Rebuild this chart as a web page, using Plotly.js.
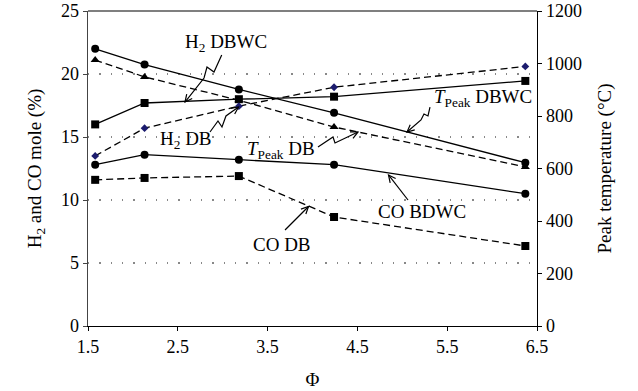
<!DOCTYPE html>
<html>
<head>
<meta charset="utf-8">
<script src="https://cdn.plot.ly/plotly-3.0.1.min.js"></script>
<style>html,body{margin:0;padding:0;background:#fff;}#chart{width:638px;height:391px;}</style>
</head>
<body>
<div id="chart"></div>
<script>
// ---- data ----
const phi = [1.58, 2.13, 3.18, 4.24, 6.37];
const h2DBWC = [16.0, 17.7, 18.0, 18.2, 19.45];
const h2DB = [13.5, 15.7, 17.45, 18.95, 20.6];
const coBDWC = [12.8, 13.6, 13.2, 12.8, 10.5];
const coDB = [11.6, 11.75, 11.9, 8.65, 6.35];
const tPeakDBWC = [1056, 996, 901, 812, 622];
const tPeakDB = [1013, 949, 860, 758, 606];
const xTicks = [1.5, 2.5, 3.5, 4.5, 5.5, 6.5];

const FONT = 'Liberation Serif, Times New Roman, serif';
const L = 88, R = 101, T = 11, B = 65, W = 638, H = 391;
const PW = W - L - R, PH = H - T - B;
const px = x => (x - L) / PW;
const py = y => (H - B - y) / PH;

function solid(x, y, sym, size, color, axis) {
  return {x: x, y: y, yaxis: axis || 'y', type: 'scatter', mode: 'lines+markers',
    line: {color: 'black', width: 1.3},
    marker: {symbol: sym, size: size, color: color || 'black'}, showlegend: false, hoverinfo: 'skip'};
}
function dashed(x, y, sym, size, color, axis) {
  const t = solid(x, y, sym, size, color, axis);
  t.line.dash = '7px,4px';
  return t;
}

const traces = [
  solid(phi, h2DBWC, 'square', 8),
  dashed(phi, h2DB, 'diamond', 6, '#1c1c6e'),
  solid(phi, coBDWC, 'circle', 8),
  dashed(phi, coDB, 'square', 8),
  solid(phi, tPeakDBWC, 'circle', 8, 'black', 'y2'),
  dashed(phi, tPeakDB, 'triangle-up', 8, 'black', 'y2')
];

// label texts (pixel positions of label centres)
const labels = [
  {t: 'H<sub>2</sub> DBWC', x: 226, y: 43},
  {t: 'H<sub>2</sub> DB', x: 186, y: 140},
  {t: '<i>T</i><sub>Peak</sub> DB', x: 281, y: 150},
  {t: '<i>T</i><sub>Peak</sub> DBWC', x: 483, y: 98},
  {t: 'CO BDWC', x: 422, y: 211},
  {t: 'CO DB', x: 282, y: 244}
];
// arrows: tail zig-zag points, last point = tip
const arrows = [
  [[221.7,55],[214,72],[207,67],[204,78],[185,102]],
  [[210,132],[218,121],[222,127],[226,116],[238.5,107]],
  [[318,147],[333,137],[335,143],[358,132]],
  [[430,107],[428,116],[424,114],[421,120],[407,132]],
  [[408,200],[388.5,175]],
  [[285,230],[308.5,206.5]]
];

const annotations = labels.map(l => ({
  text: l.t, xref: 'paper', yref: 'paper', x: px(l.x), y: py(l.y),
  xanchor: 'center', yanchor: 'middle', showarrow: false,
  font: {family: FONT, size: 19, color: 'black'}
}));
const P = p => px(p[0]).toFixed(4) + ',' + py(p[1]).toFixed(4);
const shapes = [];
arrows.forEach(pts => {
  const n = pts.length;
  let d = '';
  for (let i = 0; i < n; i++) d += (i ? ' L' : 'M') + P(pts[i]);
  shapes.push({type: 'path', xref: 'paper', yref: 'paper', path: d, line: {color: 'black', width: 1.2}});
  // open arrowhead
  const a = pts[n - 2], b = pts[n - 1];
  const ang = Math.atan2(a[1] - b[1], a[0] - b[0]);
  const len = 8, sp = 0.45;
  const h1 = [b[0] + len * Math.cos(ang + sp), b[1] + len * Math.sin(ang + sp)];
  const h2 = [b[0] + len * Math.cos(ang - sp), b[1] + len * Math.sin(ang - sp)];
  shapes.push({type: 'path', xref: 'paper', yref: 'paper',
    path: 'M' + P(h1) + ' L' + P(b) + ' L' + P(h2), line: {color: 'black', width: 1.2}});
});
// top frame line
shapes.push({type: 'line', xref: 'paper', yref: 'paper', x0: 0, x1: 1, y0: 1, y1: 1, line: {color: '#555', width: 1.5}});

const layout = {
  width: W, height: H,
  margin: {l: L, r: R, t: T, b: B},
  paper_bgcolor: 'white', plot_bgcolor: 'white',
  font: {family: FONT, size: 18, color: 'black'},
  showlegend: false,
  xaxis: {range: [1.5, 6.5], tickvals: xTicks, ticktext: xTicks.map(v => v.toFixed(1)),
    showgrid: false, zeroline: false, showline: true, linecolor: 'black', linewidth: 1.3,
    ticks: 'outside', ticklen: 4, tickcolor: 'black',
    title: {text: 'Φ', font: {family: FONT, size: 19}, standoff: 16}},
  yaxis: {range: [0, 25], dtick: 5, showgrid: true, gridcolor: '#888', gridwidth: 1.3, griddash: '1.3px,10px',
    zeroline: false, showline: true, linecolor: '#444', linewidth: 1.5,
    ticks: 'outside', ticklen: 4, tickcolor: '#444',
    title: {text: 'H<sub>2</sub> and CO mole (%)', font: {family: FONT, size: 19}, standoff: 14}},
  yaxis2: {range: [0, 1200], dtick: 200, overlaying: 'y', side: 'right', showgrid: false,
    zeroline: false, showline: true, linecolor: 'black', linewidth: 1.3,
    ticks: 'outside', ticklen: 4, tickcolor: 'black',
    title: {text: 'Peak temperature (°C)', font: {family: FONT, size: 19}, standoff: 16}},
  annotations: annotations,
  shapes: shapes
};

Plotly.newPlot('chart', traces, layout, {displayModeBar: false, staticPlot: true});
</script>
</body>
</html>
